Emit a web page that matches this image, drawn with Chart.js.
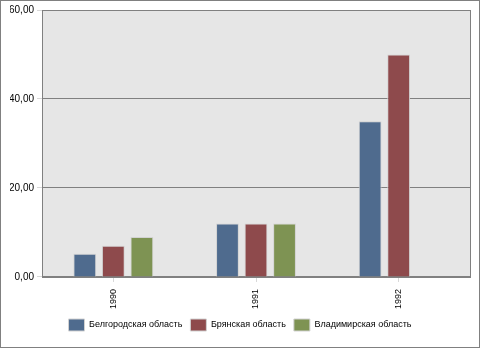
<!DOCTYPE html>
<html>
<head>
<meta charset="utf-8">
<script src="https://cdn.jsdelivr.net/npm/chart.js@4/dist/chart.umd.min.js"></script>
<style>
  html, body { margin: 0; padding: 0; background: #fff; }
  #wrap { width: 480px; height: 348px; }
</style>
</head>
<body>
<div id="wrap"><canvas id="chart" width="480" height="348"></canvas></div>
<script>
const years = ['1990', '1991', '1992'];
const belgorod = [5.2, 12, 35];
const bryansk = [7, 12, 50];
const vladimir = [9, 12, null];
const seriesNames = ['Белгородская область', 'Брянская область', 'Владимирская область'];
const seriesColors = ['#4f6b8e', '#8e4a4c', '#7e9353'];

// grey plot background plus the frame around the plot and the whole canvas
const frames = {
    id: 'frames',
    beforeDraw(chart) {
        const { ctx, chartArea: a } = chart;
        ctx.save();
        ctx.fillStyle = '#e6e6e6';
        ctx.fillRect(a.left, a.top, a.right - a.left, a.bottom - a.top);
        ctx.restore();
    },
    afterDraw(chart) {
        const { ctx, chartArea: a } = chart;
        ctx.save();
        ctx.strokeStyle = '#808080';
        ctx.lineWidth = 1;
        ctx.strokeRect(Math.round(a.left) + 0.5, Math.round(a.top) + 0.5,
            Math.round(a.right - a.left), Math.round(a.bottom - a.top));
        ctx.strokeRect(0.5, 0.5, chart.width - 1, chart.height - 1);
        ctx.restore();
    }
};

const family = 'Arial, "Liberation Sans", sans-serif';

new Chart(document.getElementById('chart'), {
    type: 'bar',
    data: {
        labels: years,
        datasets: [belgorod, bryansk, vladimir].map((d, i) => ({
            label: seriesNames[i],
            data: d,
            backgroundColor: seriesColors[i],
            borderColor: '#d2d2d2',
            borderWidth: 1,
            barPercentage: 0.8,
            categoryPercentage: 0.6
        }))
    },
    options: {
        responsive: false,
        animation: false,
        layout: { padding: { left: 10, right: 10, top: 10, bottom: 7 } },
        plugins: {
            legend: {
                position: 'bottom',
                labels: { boxWidth: 16, boxHeight: 12, padding: 8, color: '#000', font: { family, size: 9 } }
            },
            tooltip: { enabled: false }
        },
        scales: {
            x: {
                afterFit: s => { s.height -= 5; },
                grid: { offset: false, drawOnChartArea: false, tickLength: 5, tickColor: '#d8d8d8' },
                border: { color: '#808080' },
                ticks: { minRotation: 90, maxRotation: 90, padding: 7, color: '#000', font: { family, size: 9 } }
            },
            y: {
                min: 0,
                max: 60,
                afterFit: s => { s.width = 32; },
                grid: { color: '#808080', tickLength: 5, tickColor: '#d8d8d8' },
                border: { color: '#808080' },
                ticks: {
                    stepSize: 20,
                    padding: 3,
                    color: '#000',
                    font: { family, size: 10 },
                    callback: v => v.toFixed(2).replace('.', ',')
                }
            }
        }
    },
    plugins: [frames]
});
</script>
</body>
</html>
